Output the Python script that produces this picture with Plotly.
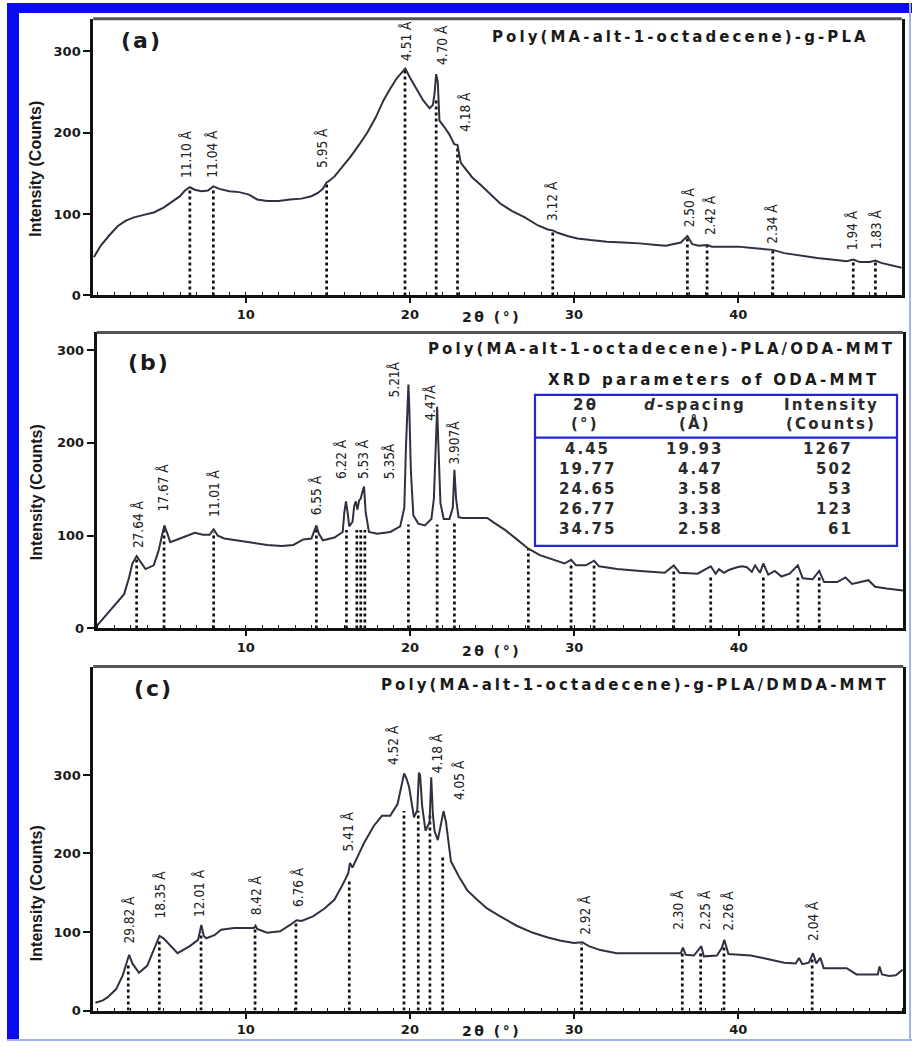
import plotly.graph_objects as go

W, H = 912, 1050

# ---------------- Panel (a) data ----------------
tt_a = [0.75, 1.2, 1.7, 2.2, 2.7, 3.2, 3.8, 4.4, 5.0, 5.6, 6.0, 6.3, 6.6, 6.9, 7.3, 7.7, 8.03, 8.4,
        9.0, 9.6, 10.2, 10.7, 11.3, 12.0, 12.7, 13.4, 14.0, 14.4, 14.7, 14.93, 15.1, 15.4, 15.9,
        16.4, 16.9, 17.4, 17.9, 18.4, 18.8, 19.2, 19.5, 19.72, 20.0, 20.4, 20.8, 21.2, 21.4, 21.5,
        21.6, 21.7, 21.8, 22.1, 22.4, 22.7, 22.9, 23.1, 23.4, 23.8, 24.3, 24.9, 25.5, 26.2, 27.0,
        27.8, 28.4, 28.7, 29.0, 29.6, 30.2, 31.0, 32.0, 33.0, 34.0, 35.0, 35.6, 36.0, 36.5, 36.9,
        37.2, 37.6, 38.1, 38.4, 39.0, 40.0, 41.0, 42.1, 42.8, 43.8, 44.8, 45.8, 46.6, 47.0, 47.4,
        48.0, 48.35, 48.7, 49.3, 49.95]
int_a = [47, 62, 74, 85, 92, 96, 99, 102, 108, 116, 122, 129, 133, 130, 128, 129, 134, 131,
         128, 127, 124, 118, 116, 116, 118, 119, 122, 126, 131, 139, 141, 146, 158,
         171, 185, 200, 218, 240, 254, 267, 274, 279, 268, 254, 240, 230, 234, 248,
         272, 262, 215, 207, 198, 186, 185, 163, 155, 145, 136, 124, 113, 104, 96,
         86, 81, 80, 77, 73, 70, 68, 66, 65, 64, 62, 61, 63, 65, 73,
         63, 61, 62, 60, 60, 60, 58, 56, 52, 49, 46, 44, 42, 44, 41,
         41, 43, 40, 37, 34]
peak_x_a = [6.6, 8.03, 14.93, 19.7, 21.6, 22.9, 28.7, 36.9, 38.1, 42.1, 47.0, 48.35]
peak_top_a = [131, 132, 138, 277, 240, 183, 79, 70, 61, 55, 43, 42]
lab_a = ["11.10 Å", "11.04 Å", "5.95 Å", "4.51 Å", "4.70 Å", "4.18 Å", "3.12 Å", "2.50 Å",
         "2.42 Å", "2.34 Å", "1.94 Å", "1.83 Å"]
lab_x_a = [6.36, 7.98, 14.68, 19.76, 21.95, 23.36, 28.64, 36.97, 38.28, 42.08, 46.9, 48.36]
lab_y_a = [143, 143, 155, 287, 282, 200, 90, 82, 73, 63, 54, 55]

# ---------------- Panel (b) data ----------------
tt_b = [0.95, 1.4, 1.8, 2.2, 2.6, 2.9, 3.1, 3.36, 3.6, 3.9, 4.4, 4.7, 4.9, 5.05, 5.2, 5.4, 6.0,
        6.5, 6.9, 7.4, 7.8, 8.05, 8.3, 8.7, 9.7, 10.5, 11.3, 12.2, 12.9, 13.5, 14.0, 14.15, 14.3,
        14.45, 14.7, 15.4, 15.9, 16.0, 16.1, 16.2, 16.3, 16.5, 16.6, 16.7, 16.8, 16.9, 17.0, 17.1,
        17.2, 17.3, 17.5, 18.0, 18.8, 19.4, 19.65, 19.75, 19.85, 19.9, 19.95, 20.05, 20.2, 20.5,
        20.9, 21.3, 21.45, 21.55, 21.65, 21.72, 21.85, 22.05, 22.4, 22.6, 22.7, 22.8, 22.95, 23.2,
        24.0, 24.7, 25.1, 25.8, 26.5, 27.2, 27.9, 28.6, 29.4, 29.8, 30.1, 30.7, 31.2, 31.5, 32.6,
        34.0, 35.5, 36.05, 36.4, 37.5, 38.3, 38.6, 38.8, 39.1, 39.4, 39.9, 40.2, 40.5, 40.8, 41.0,
        41.3, 41.5, 41.8, 42.2, 42.6, 43.1, 43.6, 43.9, 44.5, 44.9, 45.2, 46.0, 46.5, 46.9, 47.9,
        48.3, 49.0, 50.0]
int_b = [3, 12, 21, 29, 37, 55, 70, 78, 72, 64, 68, 84, 100, 111, 104, 93, 97,
         100, 103, 101, 101, 107, 100, 97, 94, 92, 90, 89, 90, 96, 97, 104, 111,
         102, 95, 98, 104, 125, 137, 125, 110, 115, 132, 137, 128, 138, 140, 147,
         153, 125, 104, 102, 104, 110, 130, 195, 250, 263, 240, 170, 122, 113,
         111, 118, 140, 195, 239, 200, 135, 118, 118, 130, 171, 140, 120, 119,
         119, 119, 114, 106, 96, 86, 79, 75, 70, 74, 68, 68, 73, 67, 64,
         62, 60, 68, 60, 59, 67, 59, 64, 60, 63, 66, 67, 66, 61, 68,
         60, 70, 58, 62, 56, 59, 68, 54, 53, 62, 50, 50, 55, 48, 52,
         45, 43, 41]
peak_x_b = [3.36, 5.03, 8.05, 14.3, 16.13, 16.76, 17.0, 17.25, 19.9, 21.65, 22.7, 27.2, 29.8,
            31.2, 36.05, 38.3, 41.5, 43.6, 44.9]
peak_top_b = [76, 108, 104, 108, 106, 106, 106, 106, 112, 112, 116, 86, 68, 68, 65, 58, 56, 58, 55]
lab_b = ["27.64 Å", "17.67 Å", "11.01 Å", "6.55 Å", "6.22 Å", "5.53 Å", "5.35Å", "5.21Å",
         "4.47Å", "3.907Å"]
lab_x_b = [3.41, 5.02, 8.07, 14.28, 15.8, 17.14, 18.73, 19.03, 21.16, 22.7]
lab_y_b = [86, 125, 119, 121, 160, 160, 160, 248, 223, 176]

# ---------------- Panel (c) data ----------------
tt_c = [0.85, 1.3, 1.6, 2.1, 2.5, 2.75, 2.9, 3.1, 3.5, 4.0, 4.4, 4.75, 5.0, 5.25, 5.85, 6.6,
        7.1, 7.3, 7.45, 7.6, 8.1, 8.5, 9.3, 10.0, 10.5, 10.6, 10.7, 11.3, 12.1, 12.7, 13.1, 13.4,
        14.1, 14.8, 15.4, 15.9, 16.25, 16.35, 16.5, 17.2, 17.8, 18.3, 18.8, 19.25, 19.5, 19.65,
        19.8, 19.95, 20.25, 20.45, 20.55, 20.62, 20.75, 20.95, 21.2, 21.3, 21.4, 21.5, 21.7,
        21.9, 22.05, 22.2, 22.5, 23.0, 23.5, 24.1, 24.7, 25.5, 26.5, 27.5, 28.4, 29.2, 30.0,
        30.5, 30.9, 31.6, 32.6, 34.0, 35.5, 36.5, 36.63, 36.8, 37.3, 37.75, 37.9, 38.7, 39.0,
        39.15, 39.4, 40.0, 40.75, 41.5, 42.0, 42.8, 43.5, 43.7, 43.9, 44.3, 44.55, 44.75, 45.0,
        45.2, 46.0, 46.6, 47.2, 48.0, 48.5, 48.6, 48.75, 49.2, 49.6, 50.0]
int_c = [10, 13, 17, 27, 44, 62, 71, 60, 48, 57, 78, 95, 92, 86, 73, 82,
         90, 109, 95, 92, 96, 103, 105, 105, 105, 108, 104, 99, 101, 109, 115, 114,
         120, 130, 141, 160, 175, 188, 182, 213, 235, 248, 248, 263, 285, 302,
         295, 285, 246, 255, 303, 300, 260, 229, 240, 297, 250, 229, 217,
         240, 254, 240, 190, 170, 153, 141, 130, 120, 108, 99, 93, 89, 86,
         87, 82, 77, 73, 73, 73, 73, 80, 71, 70, 82, 69, 70, 80,
         90, 72, 71, 70, 67, 65, 61, 60, 67, 59, 61, 73, 60, 67,
         54, 54, 54, 46, 46, 46, 56, 46, 44, 45, 52]
peak_x_c = [2.85, 4.74, 7.28, 10.57, 13.06, 16.31, 19.64, 20.51, 21.22, 22.0, 30.46, 36.59,
            37.71, 39.13, 44.5]
peak_top_c = [58, 88, 100, 104, 113, 168, 254, 254, 250, 196, 85, 75, 75, 82, 68]
lab_c = ["29.82 Å", "18.35 Å", "12.01 Å", "8.42 Å", "6.76 Å", "5.41 Å", "4.52 Å", "4.18 Å",
         "4.05 Å", "2.92 Å", "2.30 Å", "2.25 Å", "2.26 Å", "2.04 Å"]
lab_x_c = [2.89, 4.84, 7.16, 10.63, 13.15, 16.2, 18.94, 21.65, 23.0, 30.66, 36.36, 37.96, 39.4,
           44.58]
lab_y_c = [84, 116, 118, 120, 131, 202, 312, 301, 267, 95, 101, 101, 101, 88]

# ---------------- Inset table (panel b) ----------------
tab_title = "XRD parameters of ODA-MMT"
tab_head1 = ["2θ", "<i>d</i>-spacing", "Intensity"]
tab_head2 = ["(°)", "(Å)", "(Counts)"]
tab_2theta = ["4.45", "19.77", "24.65", "26.77", "34.75"]
tab_dspacing = ["19.93", "4.47", "3.58", "3.33", "2.58"]
tab_intensity = ["1267", "502", "53", "123", "61"]

panel_titles = ["Poly(MA-alt-1-octadecene)-g-PLA",
                "Poly(MA-alt-1-octadecene)-PLA/ODA-MMT",
                "Poly(MA-alt-1-octadecene)-g-PLA/DMDA-MMT"]
panel_tags = ["(a)", "(b)", "(c)"]
y_ticks = [0, 100, 200, 300]
x_ticks = [10, 20, 30, 40]


def px(xp):
    return xp / W


def py(yp):
    return 1 - yp / H


def ls(t, s):
    return '<span style="letter-spacing:%.1fpx">%s</span>' % (s, t)


BOLD = dict(family="DejaVu Sans", weight="bold", color="#1a1a1a")
NARROW = "Liberation Sans Narrow, Arial Narrow, DejaVu Sans Condensed, sans-serif"

# panel geometry in pixels: (left, right, top, bottom), x range, y range
geo = [
    dict(l=93.3, r=901.7, t=19, b=297.7, xr=[0.72, 49.95], yr=[0, 340]),
    dict(l=96.7, r=903.0, t=335, b=633.3, xr=[0.93, 50.0], yr=[0, 319]),
    dict(l=93.3, r=903.3, t=671.7, b=1018.3, xr=[0.72, 50.05], yr=[0, 438]),
]
curves = [(tt_a, int_a), (tt_b, int_b), (tt_c, int_c)]
peaks = [(peak_x_a, peak_top_a), (peak_x_b, peak_top_b), (peak_x_c, peak_top_c)]
labels = [(lab_a, lab_x_a, lab_y_a), (lab_b, lab_x_b, lab_y_b), (lab_c, lab_x_c, lab_y_c)]
title_pos = [(680, 37), (661, 352), (635, 690)]
tag_pos = [(141, 41), (149, 365), (153, 694)]
ytitle_pos = [(36, 170), (36, 496), (36, 900)]
xtitle_y = [319, 656, 1039]

fig = go.Figure()
annotations = []
shapes = []
layout_axes = {}

for i in range(3):
    g = geo[i]
    xn = "x" if i == 0 else "x%d" % (i + 1)
    yn = "y" if i == 0 else "y%d" % (i + 1)
    xkey = "xaxis" if i == 0 else "xaxis%d" % (i + 1)
    ykey = "yaxis" if i == 0 else "yaxis%d" % (i + 1)

    # dotted marker lines
    vx, vy = [], []
    for p, t in zip(*peaks[i]):
        vx += [p, p, None]
        vy += [0, t, None]
    fig.add_trace(go.Scatter(x=vx, y=vy, mode="lines", xaxis=xn, yaxis=yn,
                             line=dict(color="#101010", width=2.7, dash="dot"),
                             hoverinfo="skip"))
    # pattern
    fig.add_trace(go.Scatter(x=curves[i][0], y=curves[i][1], mode="lines", xaxis=xn, yaxis=yn,
                             line=dict(color="#303040", width=2.0)))

    layout_axes[xkey] = dict(
        domain=[px(g["l"]), px(g["r"])], range=g["xr"], anchor=yn,
        showline=True, linewidth=3, linecolor="#111", mirror=False,
        ticks="outside", tickvals=x_ticks, ticklen=5, tickwidth=2, tickcolor="#111",
        tickfont=dict(size=13, **BOLD),
        minor=dict(tickvals=list(range(1, 51)), ticks="inside", ticklen=3, tickwidth=1.3,
                   tickcolor="#111", showgrid=False),
        showgrid=False, zeroline=False)
    layout_axes[ykey] = dict(
        domain=[py(g["b"]), py(g["t"])], range=g["yr"], anchor=xn,
        showline=True, linewidth=3, linecolor="#111", mirror=True,
        ticks="outside", tickvals=y_ticks, ticklen=7, tickwidth=2, tickcolor="#111",
        tickfont=dict(size=13, **BOLD),
        showgrid=False, zeroline=False)

    # top frame line (dark grey)
    shapes.append(dict(type="line", xref="%s domain" % xn, yref="%s domain" % yn,
                       x0=0, x1=1, y0=1, y1=1, line=dict(color="#555", width=3)))

    # peak labels
    for txt, lx, ly in zip(*labels[i]):
        annotations.append(dict(x=lx, y=ly, xref=xn, yref=yn, text=txt, textangle=-90,
                                showarrow=False, xanchor="center", yanchor="bottom",
                                font=dict(family=NARROW, size=13.5, color="#222"),
                                borderpad=0))

    # panel title
    annotations.append(dict(x=px(title_pos[i][0]), y=py(title_pos[i][1]), xref="paper",
                            yref="paper", text=ls(panel_titles[i], 3.1), showarrow=False,
                            xanchor="center", yanchor="middle", font=dict(size=15, **BOLD)))
    # panel tag
    annotations.append(dict(x=px(tag_pos[i][0]), y=py(tag_pos[i][1]), xref="paper",
                            yref="paper", text=ls(panel_tags[i], 2), showarrow=False,
                            xanchor="center", yanchor="middle", font=dict(size=22, **BOLD)))
    # y title
    annotations.append(dict(x=px(ytitle_pos[i][0]), y=py(ytitle_pos[i][1]), xref="paper",
                            yref="paper", text="Intensity (Counts)", textangle=-90,
                            showarrow=False, xanchor="center", yanchor="middle",
                            font=dict(family="Liberation Sans, Arial, sans-serif", weight="bold",
                                      size=16, color="#1a1a1a")))
    # x title
    annotations.append(dict(x=px(491), y=py(xtitle_y[i]), xref="paper", yref="paper",
                            text=ls("2θ (°)", 2.5), showarrow=False, xanchor="center",
                            yanchor="middle", font=dict(size=14, **BOLD)))

# ---------------- table in panel (b) ----------------
BLUE = "#2424d8"
shapes.append(dict(type="rect", xref="paper", yref="paper", x0=px(535), x1=px(897),
                   y0=py(550), y1=py(398), line=dict(color=BLUE, width=2.2)))
shapes.append(dict(type="line", xref="paper", yref="paper", x0=px(535), x1=px(897),
                   y0=py(441), y1=py(441), line=dict(color=BLUE, width=2.2)))
annotations.append(dict(x=px(714), y=py(383), xref="paper", yref="paper",
                        text=ls(tab_title, 3.3), showarrow=False, xanchor="center",
                        yanchor="middle", font=dict(size=15, **BOLD)))
TABF = dict(family="DejaVu Sans", weight="bold", color="#2a2a2a", size=15)
head_x = [585, 695, 831]
for j in range(3):
    annotations.append(dict(x=px(head_x[j]), y=py(408), xref="paper", yref="paper",
                            text=ls(tab_head1[j], 2.2), showarrow=False, xanchor="center",
                            yanchor="middle", font=TABF))
    annotations.append(dict(x=px(head_x[j]), y=py(427), xref="paper", yref="paper",
                            text=ls(tab_head2[j], 2.2), showarrow=False, xanchor="center",
                            yanchor="middle", font=TABF))
row_y = [452.7, 472.7, 492.7, 512.7, 533.3]
for k in range(5):
    annotations.append(dict(x=px(587), y=py(row_y[k]), xref="paper", yref="paper",
                            text=ls(tab_2theta[k], 2.0), showarrow=False, xanchor="center",
                            yanchor="middle", font=TABF))
    annotations.append(dict(x=px(725), y=py(row_y[k]), xref="paper", yref="paper",
                            text=ls(tab_dspacing[k], 2.0), showarrow=False, xanchor="right",
                            yanchor="middle", font=TABF))
    annotations.append(dict(x=px(855), y=py(row_y[k]), xref="paper", yref="paper",
                            text=ls(tab_intensity[k], 2.0), showarrow=False, xanchor="right",
                            yanchor="middle", font=TABF))

# ---------------- outer blue frame ----------------
FRAME = "#0b0bf0"
shapes.append(dict(type="rect", xref="paper", yref="paper", x0=px(7), x1=px(912),
                   y0=py(13), y1=py(3), fillcolor=FRAME, line=dict(width=0), layer="above"))
shapes.append(dict(type="rect", xref="paper", yref="paper", x0=px(7), x1=px(19),
                   y0=py(1049), y1=py(3), fillcolor=FRAME, line=dict(width=0), layer="above"))
shapes.append(dict(type="line", xref="paper", yref="paper", x0=px(910), x1=px(910),
                   y0=py(1049), y1=py(3), line=dict(color="#a8b0f4", width=2)))
shapes.append(dict(type="line", xref="paper", yref="paper", x0=px(7), x1=px(912),
                   y0=py(1048), y1=py(1048), line=dict(color="#a8b0f4", width=2)))

fig.update_layout(width=W, height=H, margin=dict(l=0, r=0, t=0, b=0),
                  paper_bgcolor="white", plot_bgcolor="white", showlegend=False,
                  annotations=annotations, shapes=shapes, **layout_axes)

fig.write_html("out.html")
